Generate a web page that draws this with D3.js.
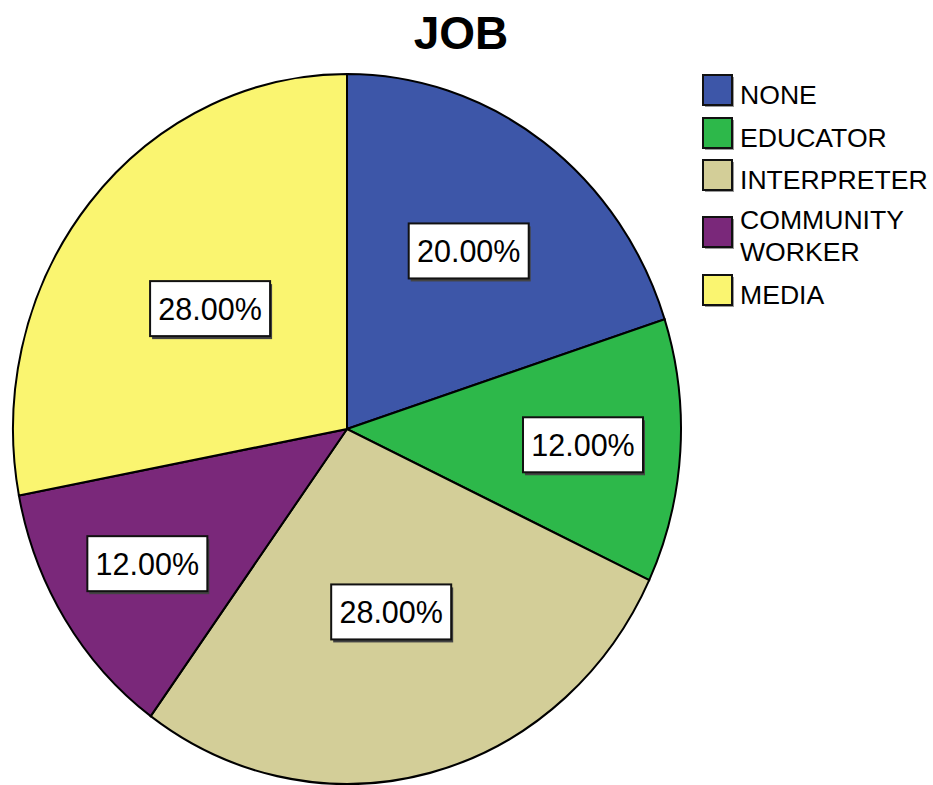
<!DOCTYPE html>
<html>
<head>
<meta charset="utf-8">
<script src="https://cdn.jsdelivr.net/npm/d3@7"></script>
<style>
  body { margin: 0; background: #fff; }
  svg { display: block; font-family: "Liberation Sans", Arial, sans-serif; }
</style>
</head>
<body>
<svg width="933" height="785"></svg>
<script>
// data
var jobs = ['NONE', 'EDUCATOR', 'INTERPRETER', 'COMMUNITY WORKER', 'MEDIA'];
var shares = [20, 12, 28, 12, 28];
var colors = ['#3D56A8', '#2DB84A', '#D3CE98', '#7A287A', '#FAF570'];
var legendLines = [['NONE'], ['EDUCATOR'], ['INTERPRETER'], ['COMMUNITY', 'WORKER'], ['MEDIA']];

var svg = d3.select('svg');

// pie is a bit taller than wide in the picture
var cx = 347, cy = 429, rx = 334, ry = 355;

var pie = d3.pie().sort(null).value(function(d) { return d; });
var arcs = pie(shares);
var arc = d3.arc().innerRadius(0).outerRadius(rx);

var g = svg.append('g')
  .attr('transform', 'translate(' + cx + ',' + cy + ') scale(1,' + (ry / rx) + ')');

g.selectAll('path')
  .data(arcs)
  .enter()
  .append('path')
  .attr('d', arc)
  .attr('fill', function(d, i) { return colors[i]; })
  .attr('stroke', '#000')
  .attr('stroke-width', 2);

// labels - smaller slices get their label pushed further out
var labels = svg.append('g');
arcs.forEach(function(d, i) {
  var mid = (d.startAngle + d.endAngle) / 2;
  var f = 0.84 - 1.1 * shares[i] / 100;
  var x = cx + Math.sin(mid) * rx * f;
  var y = cy - Math.cos(mid) * ry * f;
  var bw = 120, bh = 55;
  labels.append('rect')
    .attr('x', x - bw / 2 + 2).attr('y', y - bh / 2 + 3)
    .attr('width', bw).attr('height', bh)
    .attr('fill', '#444');
  labels.append('rect')
    .attr('x', x - bw / 2).attr('y', y - bh / 2)
    .attr('width', bw).attr('height', bh)
    .attr('fill', '#fff')
    .attr('stroke', '#111')
    .attr('stroke-width', 2);
  labels.append('text')
    .attr('x', x).attr('y', y + 11)
    .attr('text-anchor', 'middle')
    .attr('font-size', 30.5)
    .attr('fill', '#000')
    .text(d3.format('.2f')(shares[i]) + '%');
});

// title
svg.append('text')
  .attr('x', 461).attr('y', 49)
  .attr('text-anchor', 'middle')
  .attr('font-size', 46)
  .attr('font-weight', 'bold')
  .attr('fill', '#000')
  .text('JOB');

// legend
var legendTop = [75, 118, 160, 217, 275];
var legend = svg.append('g');
jobs.forEach(function(name, i) {
  var y0 = legendTop[i];
  legend.append('rect')
    .attr('x', 705).attr('y', y0 + 2)
    .attr('width', 29).attr('height', 30)
    .attr('fill', '#999');
  legend.append('rect')
    .attr('x', 703).attr('y', y0)
    .attr('width', 29).attr('height', 30)
    .attr('fill', colors[i])
    .attr('stroke', '#111')
    .attr('stroke-width', 2);
  var lines = legendLines[i];
  var base = lines.length === 1 ? y0 + 29 : y0 + 12;
  lines.forEach(function(t, j) {
    legend.append('text')
      .attr('x', 740).attr('y', base + j * 32)
      .attr('font-size', 26.6)
      .attr('fill', '#000')
      .text(t);
  });
});
</script>
</body>
</html>
